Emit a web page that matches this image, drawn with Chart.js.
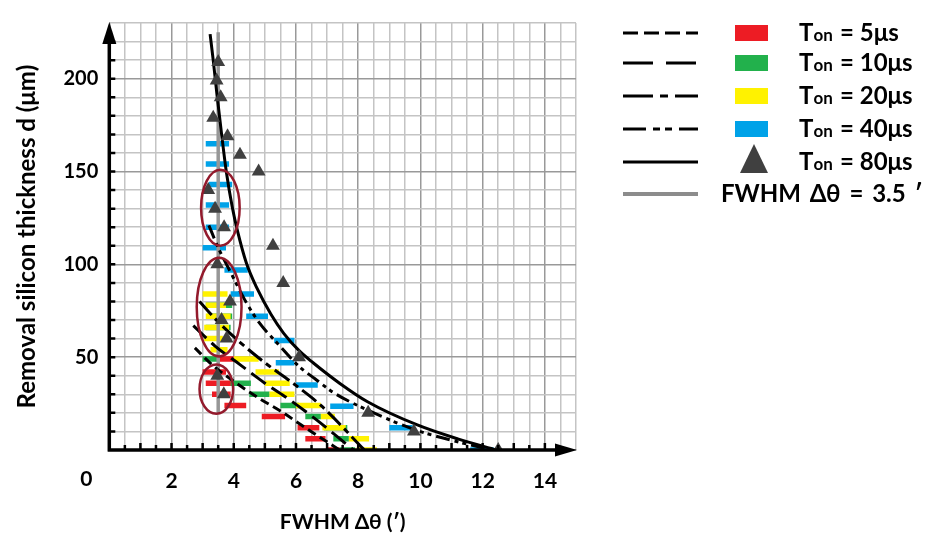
<!DOCTYPE html>
<html>
<head>
<meta charset="utf-8">
<title>FWHM vs espesor</title>
<script src="https://cdn.jsdelivr.net/npm/chart.js@4.4.1/dist/chart.umd.min.js"></script>
<style>
  body { margin: 0; background: #fff; }
  #caja { position: relative; width: 929px; height: 544px; }
  #grafico { position: absolute; left: 0; top: 0; }
  .txt { position: absolute; font-family: Lato, 'Open Sans', sans-serif; font-weight: bold; font-size: 24px; line-height: 30px; color: #000; white-space: nowrap; }
  .txt small { font-size: 17px; }
  .caja-color { position: absolute; width: 33px; height: 16px; }
  svg { position: absolute; overflow: visible; }
</style>
</head>
<body>
<div id="caja">
  <canvas id="grafico" width="929" height="544"></canvas>
</div>
<script>
// ejes
const xTicks = [2, 4, 6, 8, 10, 12, 14];
const yTicks = [50, 100, 150, 200];

// barras horizontales: [x inicio, x fin, d]
const barras5 = [[3.55,4.0,49],[3.0,3.75,42],[3.1,3.9,36],[3.3,3.9,30],[3.7,4.4,24],[4.9,5.65,18],[6.05,6.75,12],[6.3,6.95,6],[7.0,7.4,0]];
const barras10 = [[3.1,3.95,78],[3.15,3.95,72],[3.1,3.9,66],[3.0,3.55,49],[3.85,4.55,36],[4.5,5.15,30],[5.5,6.1,24],[6.3,6.8,18],[6.9,7.65,12],[7.2,7.7,6],[7.4,7.9,0]];
const barras20 = [[3.0,3.8,84],[3.1,3.75,78],[3.1,3.9,72],[3.05,3.85,66],[3.05,3.65,60],[3.25,3.8,54],[4.0,4.8,49],[4.7,5.45,42],[5.0,5.8,36],[5.15,5.95,30],[6.0,6.8,24],[6.8,7.25,18],[6.85,7.6,12],[7.7,8.35,6],[7.95,8.6,0]];
const barras40 = [[3.1,3.85,165],[3.1,3.85,154],[3.2,3.95,143],[3.1,3.85,132],[3.1,3.85,120],[3.0,3.75,109],[3.7,4.45,97],[3.9,4.65,84],[4.4,5.1,72],[5.3,5.95,59],[5.35,5.95,47],[6.0,6.7,35],[7.1,7.85,23.5],[9.0,9.75,12],[11.6,12.35,0]];

// triangulos Ton = 80us
const triX = [3.5,3.45,3.58,3.34,3.8,4.2,4.8,3.18,3.4,3.69,5.26,3.47,5.59,3.88,3.61,3.77,6.1,3.47,3.68,8.32,9.79,12.5];
const triY = [209,199,190,179,169,159,150,140,130,120,110,100,90,80,70,60,50,40,30,20,10,0];

// curvas de ajuste
const c5x = [2.75,3.3,4.0,4.8,5.5,6.3,7.4];
const c5y = [55,46,37,28,21,12,0];
const c10x = [2.7,3.4,4.2,5.0,5.8,6.6,7.85];
const c10y = [67,56,46,36,27,17,0];
const c20x = [2.9,3.5,4.2,5.0,5.9,6.8,8.2];
const c20y = [80,69,58,47,36,24,0];
const c40x = [3.2,3.5,3.92,4.35,4.8,5.4,6.1,6.6,7.2,8.3,9.9,11.3,12.3];
const c40y = [121,109,95,81,69,57.5,45,38.5,31,21.5,10.5,4,0];
const c80x = [3.24,3.34,3.47,3.61,3.76,3.95,4.12,4.4,4.75,5.2,5.6,6.1,6.55,7.4,8.3,9.9,11.2,12.45];
const c80y = [224,210,190,170,150,131,118,101,87,73,63,53.5,47,36,26,13.5,6,0];

// linea FWHM = 3.5
const fwhmX = [3.5, 3.5];
const fwhmY = [20, 225];

// elipses: [x centro, d centro, radio x, radio d]
const elipses = [[3.57,130.5,0.62,20.5],[3.53,77,0.72,26.6],[3.44,32.8,0.54,13.3]];

// leyenda
const etiquetas = ['5μs', '10μs', '20μs', '40μs', '80μs'];
const colores = ['#ed1c24', '#22b14c', '#fff200', '#00a2e8'];
const trazos = [[9,5], [18,7], [18,5,6,5], [14,5,4,4,4,5], []];
const trazosLeyenda = [[15,6], [30,13], [30,7,8,7], [23,7,7,5,7,7], []];

function segmentos(lista) {
  const pts = [];
  lista.forEach(b => {
    pts.push({x: b[0], y: b[2]}, {x: b[1], y: b[2]}, {x: b[1], y: null});
  });
  return pts;
}
function puntos(xs, ys) {
  return xs.map((v, i) => ({x: v, y: ys[i]}));
}

function curva(xs, ys, dash) {
  return {
    data: puntos(xs, ys),
    borderColor: '#000',
    borderWidth: 3,
    borderDash: dash,
    pointRadius: 0,
    cubicInterpolationMode: 'monotone'
  };
}
function barra(lista, color) {
  return {
    data: segmentos(lista),
    borderColor: color,
    borderWidth: 5.5,
    borderCapStyle: 'butt',
    pointRadius: 0,
    spanGaps: false
  };
}

const extras = {
  id: 'extras',
  afterDatasetsDraw(chart) {
    const ctx = chart.ctx;
    const x = chart.scales.x, y = chart.scales.y;
    ctx.save();
    // elipses
    ctx.strokeStyle = '#931a2c';
    ctx.lineWidth = 2.5;
    elipses.forEach(e => {
      const cx = x.getPixelForValue(e[0]), cy = y.getPixelForValue(e[1]);
      const rx = x.getPixelForValue(e[0] + e[2]) - cx;
      const ry = cy - y.getPixelForValue(e[1] + e[3]);
      ctx.beginPath();
      ctx.ellipse(cx, cy, rx, ry, 0, 0, Math.PI * 2);
      ctx.stroke();
    });
    // ejes con flechas
    const x0 = x.getPixelForValue(0), y0 = y.getPixelForValue(0);
    const xEnd = x.getPixelForValue(x.max), yEnd = y.getPixelForValue(y.max);
    ctx.strokeStyle = '#000';
    ctx.fillStyle = '#000';
    ctx.lineWidth = 3.5;
    ctx.beginPath();
    ctx.moveTo(x0, y0 + 1.5); ctx.lineTo(x0, yEnd + 15);
    ctx.moveTo(x0 - 1.5, y0); ctx.lineTo(xEnd - 15, y0);
    ctx.stroke();
    ctx.beginPath();
    ctx.moveTo(x0, yEnd - 1); ctx.lineTo(x0 - 7, yEnd + 21); ctx.lineTo(x0 + 7, yEnd + 21); ctx.closePath();
    ctx.fill();
    ctx.beginPath();
    ctx.moveTo(xEnd + 1, y0); ctx.lineTo(xEnd - 21, y0 - 6.5); ctx.lineTo(xEnd - 21, y0 + 6.5); ctx.closePath();
    ctx.fill();
    // marcas
    ctx.lineWidth = 2.5;
    ctx.beginPath();
    y.ticks.forEach(t => {
      if (t.value <= 0 || t.value >= y.max - 5) return;
      const py = y.getPixelForValue(t.value);
      ctx.moveTo(x0, py); ctx.lineTo(x0 + 6, py);
    });
    x.ticks.forEach(t => {
      if (t.value <= 0 || t.value >= x.max - 0.6) return;
      const px = x.getPixelForValue(t.value);
      const l = Number.isInteger(t.value) ? 7 : 5;
      ctx.moveTo(px, y0); ctx.lineTo(px, y0 - l);
    });
    ctx.stroke();
    // etiqueta 0 del origen
    ctx.font = 'bold 21px Lato, sans-serif';
    ctx.textAlign = 'center';
    ctx.textBaseline = 'top';
    ctx.fillText('0', x0 - 23, y0 + 19);
    ctx.restore();
  }
};

const grid = (fuerte) => ({
  color: c => (fuerte(c.tick.value) ? '#999999' : '#c4c4c4'),
  lineWidth: 1.5,
  drawTicks: false
});

const ctx = document.getElementById('grafico');
new Chart(ctx, {
  type: 'line',
  data: {
    datasets: [
      {
        data: puntos(triX, triY),
        showLine: false,
        pointStyle: 'triangle',
        pointRadius: 8,
        pointBackgroundColor: '#404040',
        pointBorderColor: '#404040',
        pointBorderWidth: 0
      },
      curva(c80x, c80y, trazos[4]),
      curva(c40x, c40y, trazos[3]),
      curva(c20x, c20y, trazos[2]),
      curva(c10x, c10y, trazos[1]),
      curva(c5x, c5y, trazos[0]),
      {
        data: puntos(fwhmX, fwhmY),
        borderColor: '#979797',
        borderWidth: 3.5,
        pointRadius: 0
      },
      barra(barras5, colores[0]),
      barra(barras20, colores[2]),
      barra(barras10, colores[1]),
      barra(barras40, colores[3])
    ]
  },
  options: {
    responsive: false,
    animation: false,
    layout: { padding: { top: 10, right: 353, left: 0, bottom: 0 } },
    plugins: { legend: { display: false }, tooltip: { enabled: false } },
    scales: {
      x: {
        type: 'linear',
        min: 0,
        max: 15,
        afterFit: s => { s.height = 94; },
        border: { display: false },
        grid: grid(v => v % 2 === 0),
        ticks: {
          stepSize: 0.5,
          autoSkip: false,
          maxRotation: 0,
          maxTicksLimit: 100,
          padding: 19,
          color: '#000',
          font: { family: 'Lato', size: 21, weight: 'bold' },
          callback: v => (xTicks.includes(v) ? v : '')
        },
        title: {
          display: true,
          text: 'FWHM Δθ (′)',
          color: '#000',
          font: { family: 'Lato', size: 21, weight: 'bold' },
          padding: { top: 0, bottom: 9 }
        }
      },
      y: {
        type: 'linear',
        min: 0,
        max: 230,
        afterFit: s => { s.width = 109.3; },
        border: { display: false },
        grid: grid(v => v % 50 === 0),
        ticks: {
          stepSize: 10,
          autoSkip: false,
          maxTicksLimit: 100,
          padding: 11,
          color: '#000',
          font: { family: 'Lato', size: 20, weight: 'bold' },
          callback: v => (yTicks.includes(v) ? v : '')
        },
        title: {
          display: true,
          text: 'Removal silicon thickness d (μm)',
          color: '#000',
          font: { family: 'Lato', size: 24, weight: 'bold' },
          padding: { top: 13, bottom: 0 }
        }
      }
    }
  },
  plugins: [extras]
});

// leyenda a la derecha
const caja = document.getElementById('caja');
const filasY = [33, 63, 96, 129, 162, 194];
function muestraLinea(cy, dash, color, ancho) {
  const svg = document.createElementNS('http://www.w3.org/2000/svg', 'svg');
  svg.setAttribute('width', 76);
  svg.setAttribute('height', 10);
  svg.style.left = '623px';
  svg.style.top = (cy - 5) + 'px';
  const l = document.createElementNS('http://www.w3.org/2000/svg', 'line');
  l.setAttribute('x1', 0); l.setAttribute('x2', 75);
  l.setAttribute('y1', 5); l.setAttribute('y2', 5);
  l.setAttribute('stroke', color);
  l.setAttribute('stroke-width', ancho);
  if (dash.length) l.setAttribute('stroke-dasharray', dash.join(' '));
  svg.appendChild(l);
  caja.appendChild(svg);
}
etiquetas.forEach((et, i) => {
  const cy = filasY[i];
  muestraLinea(cy, trazosLeyenda[i], '#000', 3);
  if (i < 4) {
    const c = document.createElement('div');
    c.className = 'caja-color';
    c.style.left = '735px';
    c.style.top = (cy - 8) + 'px';
    c.style.background = colores[i];
    caja.appendChild(c);
  } else {
    const svg = document.createElementNS('http://www.w3.org/2000/svg', 'svg');
    svg.setAttribute('width', 28);
    svg.setAttribute('height', 29);
    svg.style.left = '740px';
    svg.style.top = (cy - 18) + 'px';
    const p = document.createElementNS('http://www.w3.org/2000/svg', 'polygon');
    p.setAttribute('points', '14,0 0,29 28,29');
    p.setAttribute('fill', '#404040');
    svg.appendChild(p);
    caja.appendChild(svg);
  }
  const t = document.createElement('div');
  t.className = 'txt';
  t.style.left = '799px';
  t.style.top = (cy - 16) + 'px';
  t.innerHTML = 'T<small>on</small>';
  caja.appendChild(t);
  const v = document.createElement('div');
  v.className = 'txt';
  v.style.left = '840px';
  v.style.top = (cy - 16) + 'px';
  v.textContent = '= ' + et;
  caja.appendChild(v);
});
muestraLinea(filasY[5], [], '#8c8c8c', 4);
const fw = document.createElement('div');
fw.className = 'txt';
fw.style.left = '721px';
fw.style.top = (filasY[5] - 16) + 'px';
fw.style.wordSpacing = '3px';
fw.textContent = 'FWHM Δθ = 3.5 ′';
caja.appendChild(fw);
</script>
</body>
</html>
